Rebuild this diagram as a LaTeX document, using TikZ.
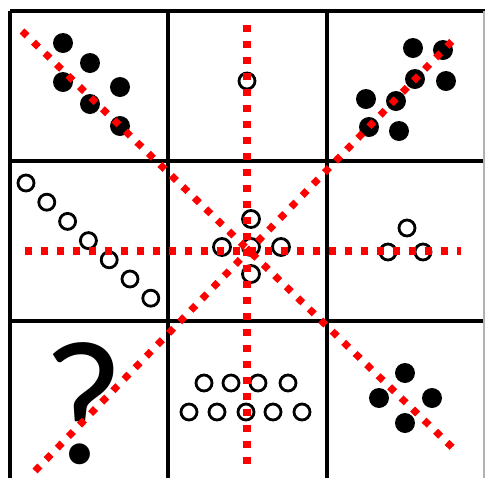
\documentclass[tikz,border=0pt]{standalone}
\usepackage{fontspec}
\newfontfamily\qfont{Lato}

\begin{document}
\begin{tikzpicture}[x=0.02cm, y=-0.02cm,
		gridline/.style={line width=2pt},
		redline/.style={red, line width=4pt, dash pattern=on 4pt off 5.1pt},
		fulldot/.style={fill=black},
		opendot/.style={draw=black, line width=1.6pt}]
	\useasboundingbox (0,0) rectangle (485,478);
	% grid
	\draw[gridline] (10,11) -- (485,11);
	\draw[gridline] (10,161) -- (485,161);
	\draw[gridline] (10,321) -- (485,321);
	\foreach \x in {10,168,327}
		\draw[gridline] (\x,11) -- (\x,478);
	\draw[gray!60, line width=0.8pt] (484,11) -- (484,478);
	% top row
	\foreach \p in {(63,43),(90,63),(63,82),(120,87),(90,104),(120,126)}
		\fill[fulldot] \p circle[radius=0.2cm];
	\draw[opendot] (247,81) circle[radius=0.16cm];
	\foreach \p in {(413,48),(443,50),(415,79),(446,81),(366,99),(396,101),(369,127),(399,131)}
		\fill[fulldot] \p circle[radius=0.2cm];
	% middle row
	\foreach \i in {0,...,6}
		\draw[opendot] (26+20.8*\i,183+19.2*\i) circle[radius=0.16cm];
	\foreach \p in {(251,219),(222,247),(251,247),(281,247),(251,274)}
		\draw[opendot] \p circle[radius=0.17cm];
	\foreach \p in {(407,228),(388,252),(423,252)}
		\draw[opendot] \p circle[radius=0.16cm];
	% bottom row
	\node[inner sep=0, anchor=base, font=\qfont\fontsize{95}{95}\selectfont] (qmark) at (84,463) {?};
	\foreach \x in {204,231,258,288}
		\draw[opendot] (\x,383) circle[radius=0.16cm];
	\foreach \x in {189,217,246,273,302}
		\draw[opendot] (\x,412) circle[radius=0.16cm];
	\foreach \p in {(405,373),(379,398),(432,398),(405,423)}
		\fill[fulldot] \p circle[radius=0.2cm];
	% red axes
	\coordinate (vtop) at (247,25);
	\coordinate (vbot) at (247,466);
	\coordinate (hleft) at (25,251);
	\coordinate (hright) at (461,251);
	\coordinate (dtl) at (22,31);
	\coordinate (dbr) at (458,453);
	\coordinate (dbl) at (35,471);
	\coordinate (dtr) at (457,36);
	\draw[redline] (vtop) -- (vbot);
	\draw[redline] (hleft) -- (hright);
	\draw[redline] (dtl) -- (dbr);
	\draw[redline] (dbl) -- (dtr);
\end{tikzpicture}
\end{document}
